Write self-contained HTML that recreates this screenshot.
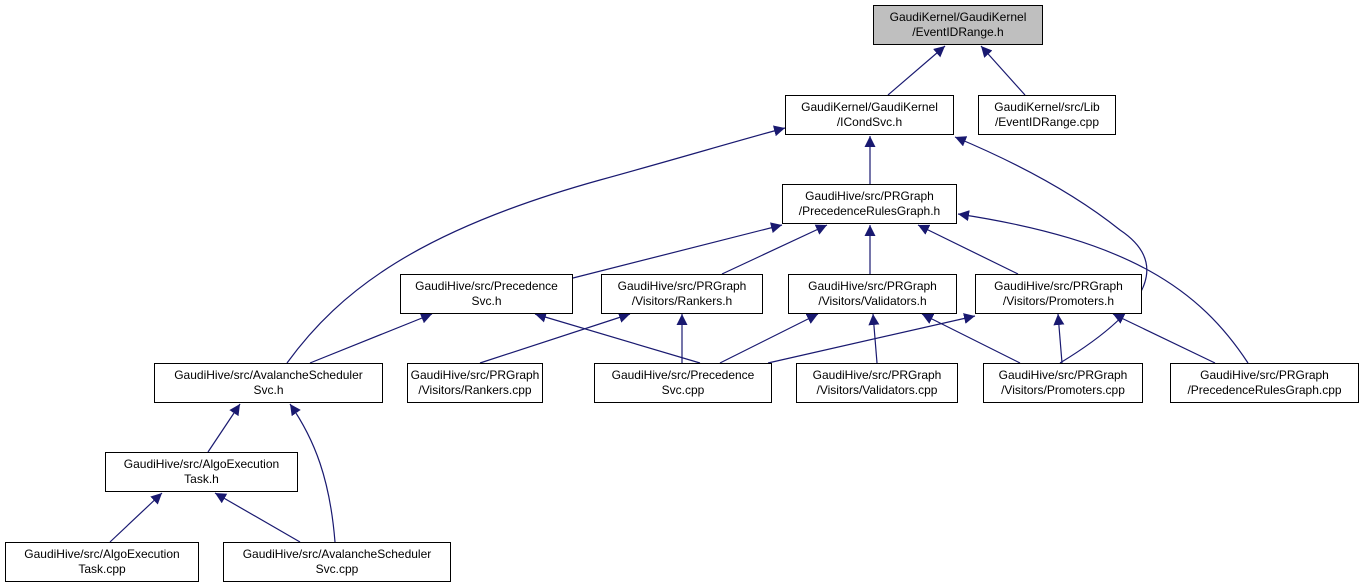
<!DOCTYPE html>
<html><head><meta charset="utf-8"><style>
body{margin:0;background:#fff;width:1365px;height:588px;overflow:hidden;position:relative;font-family:"Liberation Sans",sans-serif;}
.b{position:absolute;border:1px solid #000;background:#fff;box-sizing:border-box;font-size:12px;line-height:15px;text-align:center;padding-top:4px;color:#000;white-space:nowrap}
svg{position:absolute;left:0;top:0}
</style></head><body>
<svg width="1365" height="588">
<defs><marker id="a" viewBox="0 0 10 10" refX="10" refY="5" markerWidth="11" markerHeight="11" markerUnits="userSpaceOnUse" orient="auto"><path d="M0,0L10,5L0,10z" fill="#191970"/></marker></defs>
<g stroke="#191970" stroke-width="1.2" fill="none" marker-end="url(#a)">
<path d="M888,95L945,46"/>
<path d="M1025,95L981,46"/>
<path d="M870,184L870,136"/>
<path d="M287,363C340,290 420,230 600,180 C680,158 740,140 785,128"/>
<path d="M1060,363C1180,290 1150,250 1120,230 C1070,190 1010,160 955,137"/>
<path d="M573,278L782,225"/>
<path d="M722,274L827,225"/>
<path d="M870,274L870,225"/>
<path d="M1018,274L918,225"/>
<path d="M1248,363C1200,290 1130,240 958,214"/>
<path d="M310,363L432,314"/>
<path d="M700,363L535,314"/>
<path d="M480,363L630,314"/>
<path d="M682,363L682,314"/>
<path d="M720,363L818,314"/>
<path d="M877,363L873,314"/>
<path d="M1020,363L922,314"/>
<path d="M768,363L975,316"/>
<path d="M1062,363L1058,314"/>
<path d="M1215,363L1113,314"/>
<path d="M208,452L240,404"/>
<path d="M335,542C330,480 315,440 290,404"/>
<path d="M110,542L162,493"/>
<path d="M300,542L215,493"/>
</g></svg>
<div class="b" style="left:873px;top:5px;width:170px;height:40px;background:#bfbfbf">GaudiKernel/GaudiKernel<br>/EventIDRange.h</div>
<div class="b" style="left:785px;top:95px;width:169px;height:40px">GaudiKernel/GaudiKernel<br>/ICondSvc.h</div>
<div class="b" style="left:978px;top:95px;width:138px;height:40px">GaudiKernel/src/Lib<br>/EventIDRange.cpp</div>
<div class="b" style="left:782px;top:184px;width:175px;height:40px">GaudiHive/src/PRGraph<br>/PrecedenceRulesGraph.h</div>
<div class="b" style="left:400px;top:274px;width:173px;height:40px">GaudiHive/src/Precedence<br>Svc.h</div>
<div class="b" style="left:601px;top:274px;width:162px;height:40px">GaudiHive/src/PRGraph<br>/Visitors/Rankers.h</div>
<div class="b" style="left:788px;top:274px;width:169px;height:40px">GaudiHive/src/PRGraph<br>/Visitors/Validators.h</div>
<div class="b" style="left:975px;top:274px;width:167px;height:40px">GaudiHive/src/PRGraph<br>/Visitors/Promoters.h</div>
<div class="b" style="left:154px;top:363px;width:229px;height:40px">GaudiHive/src/AvalancheScheduler<br>Svc.h</div>
<div class="b" style="left:407px;top:363px;width:136px;height:40px">GaudiHive/src/PRGraph<br>/Visitors/Rankers.cpp</div>
<div class="b" style="left:594px;top:363px;width:178px;height:40px">GaudiHive/src/Precedence<br>Svc.cpp</div>
<div class="b" style="left:796px;top:363px;width:162px;height:40px">GaudiHive/src/PRGraph<br>/Visitors/Validators.cpp</div>
<div class="b" style="left:983px;top:363px;width:160px;height:40px">GaudiHive/src/PRGraph<br>/Visitors/Promoters.cpp</div>
<div class="b" style="left:1170px;top:363px;width:189px;height:40px">GaudiHive/src/PRGraph<br>/PrecedenceRulesGraph.cpp</div>
<div class="b" style="left:105px;top:452px;width:193px;height:40px">GaudiHive/src/AlgoExecution<br>Task.h</div>
<div class="b" style="left:5px;top:542px;width:194px;height:40px">GaudiHive/src/AlgoExecution<br>Task.cpp</div>
<div class="b" style="left:223px;top:542px;width:228px;height:40px">GaudiHive/src/AvalancheScheduler<br>Svc.cpp</div>
</body></html>
